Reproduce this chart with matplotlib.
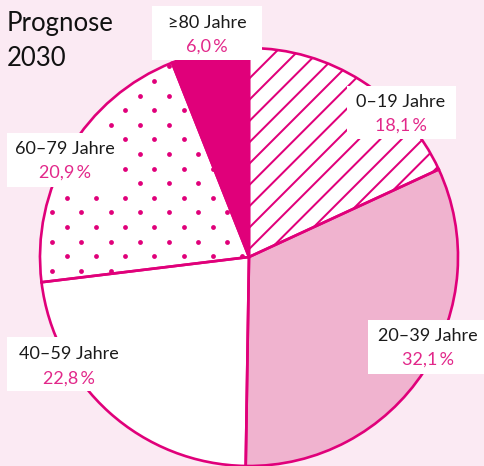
import numpy as np
from matplotlib import pyplot as plt
from matplotlib.patches import Rectangle, Wedge

plt.rcParams['font.family'] = ['Lato', 'DejaVu Sans']

groups = ['0–19 Jahre', '20–39 Jahre', '40–59 Jahre', '60–79 Jahre', '≥80 Jahre']
shares = [18.1, 32.1, 22.8, 20.9, 6.0]
share_labels = ['18,1\u2009%', '32,1\u2009%', '22,8\u2009%', '20,9\u2009%', '6,0\u2009%']

magenta = '#e0007a'
light = '#f0b3cf'
bg = '#fbeaf3'
pct_color = '#e2288a'

H = 466
fig = plt.figure(figsize=(4.85, 4.66), dpi=100, facecolor=bg)
ax = fig.add_axes([0, 0, 1, 1])
ax.set_facecolor(bg)

cx, cy, r = 249, H - 257, 209
wedges, _ = ax.pie(shares, startangle=90, counterclock=False, center=(cx, cy), radius=r,
                   colors=['white', light, 'white', 'white', magenta],
                   wedgeprops=dict(edgecolor='none', linewidth=0, zorder=1))

# diagonal line texture for 0-19
xs = np.array([0, 485])
for k in range(-30, 30):
    c = 53 + k * 21.3
    ln, = ax.plot(xs, xs + c, color=magenta, linewidth=1.45, zorder=2)
    ln.set_clip_path(wedges[0])

# dot texture for 60-79
dx, dy = 29.2, 14.6
x0, y0 = 52.3, H - 270.7
pts = []
for k in range(-5, 25):
    yy = y0 + k * dy
    off = (k % 2) * dx / 2
    for n in range(-3, 18):
        pts.append((x0 + off + n * dx, yy))
pts = np.array(pts)
dots = ax.scatter(pts[:, 0], pts[:, 1], s=12, color=magenta, linewidths=0, zorder=2)
dots.set_clip_path(wedges[3])

# wedge outlines on top of textures
for w in wedges:
    ax.add_patch(Wedge(w.center, w.r, w.theta1, w.theta2, fill=False,
                       edgecolor=magenta, linewidth=1.9, zorder=3))

# label boxes (pixel coords, top-left origin)
boxes = {
    '≥80 Jahre': (152, 6, 262, 60, 23, 47),
    '0–19 Jahre': (347, 86, 456, 139, 102, 126),
    '60–79 Jahre': (7, 133, 123, 187, 149, 173),
    '40–59 Jahre': (7, 337, 131, 391, 354, 379),
    '20–39 Jahre': (368, 320, 490, 374, 336, 360),
}
tx = {'≥80 Jahre': 207, '0–19 Jahre': 401, '60–79 Jahre': 65, '40–59 Jahre': 69, '20–39 Jahre': 428}
for g, p in zip(groups, share_labels):
    x1, y1, x2, y2, ly, py = boxes[g]
    ax.add_patch(Rectangle((x1, H - y2), x2 - x1, y2 - y1, facecolor='white', edgecolor='none', zorder=4))
    ax.text(tx[g], H - ly, g, ha='center', va='center', fontsize=13, color='#1a1a1a', zorder=5)
    ax.text(tx[g], H - py, p, ha='center', va='center', fontsize=13, color=pct_color, zorder=5)

ax.text(7, H - 23, 'Prognose', ha='left', va='center', fontsize=18.5, color='#111111')
ax.text(7, H - 58, '2030', ha='left', va='center', fontsize=18.5, color='#111111')

ax.set_xlim(0, 485)
ax.set_ylim(0, H)
ax.set_aspect('equal')
ax.axis('off')

fig.savefig('out.png', dpi=100, facecolor=bg)
